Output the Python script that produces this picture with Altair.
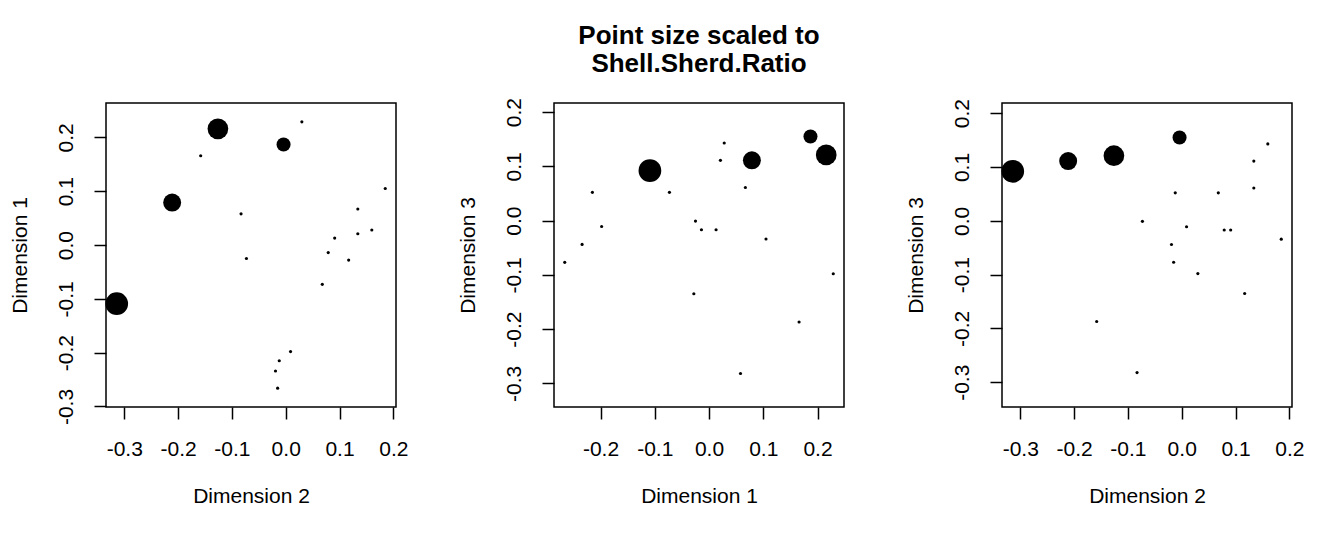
import altair as alt
import pandas as pd

# Coordinates of the 20 samples on three dimensions, and the shell/sherd ratio
dim1 = [-0.109, 0.079, 0.216, 0.187, 0.229, 0.166, 0.058, -0.025, 0.105, 0.067,
        0.028, 0.021, 0.013, -0.014, -0.028, -0.073, -0.198, -0.215, -0.234, -0.266]
dim2 = [-0.314, -0.211, -0.126, -0.004, 0.030, -0.158, -0.083, -0.073, 0.185, 0.134,
        0.160, 0.134, 0.091, 0.079, 0.117, 0.068, 0.009, -0.012, -0.019, -0.015]
dim3 = [0.092, 0.111, 0.121, 0.155, -0.098, -0.187, -0.282, -0.001, -0.034, 0.061,
        0.143, 0.111, -0.017, -0.017, -0.135, 0.052, -0.011, 0.052, -0.044, -0.077]
ratio = [1.0, 0.62, 0.83, 0.37, 0, 0, 0, 0, 0, 0,
         0, 0, 0, 0, 0, 0, 0, 0, 0, 0]

tick_vals = [-0.3, -0.2, -0.1, 0.0, 0.1, 0.2]

df = pd.DataFrame({"d1": dim1, "d2": dim2, "d3": dim3, "ratio": ratio})

W, H = 290, 304
FONT = "Liberation Sans"
LBL = "datum.value < 0 ? '-' + format(-datum.value, '.1f') : format(datum.value, '.1f')"


def ext(v):
    lo, hi = min(v), max(v)
    d = (hi - lo) * 0.04
    return lo - d, hi + d


def asp_domains(xv, yv):
    x0, x1 = ext(xv)
    y0, y1 = ext(yv)
    ppu = min(W / (x1 - x0), H / (y1 - y0))
    xc, yc = (x0 + x1) / 2, (y0 + y1) / 2
    xw, yh = W / ppu / 2, H / ppu / 2
    return [xc - xw, xc + xw], [yc - yh, yc + yh]


def xaxis(title, dom):
    vals = [v for v in tick_vals if dom[0] - 1e-9 <= v <= dom[1] + 1e-9]
    return alt.Axis(values=vals, labelExpr=LBL, title=title, domain=False, grid=False,
                    tickSize=12, tickWidth=1.5, tickColor="black",
                    labelFont=FONT, labelFontSize=21, labelColor="black",
                    labelPadding=19, labelFlush=False, labelOverlap=False,
                    titleFont=FONT, titleFontSize=21, titleFontWeight="normal",
                    titleColor="black", titlePadding=26)


def yaxis(title, dom):
    vals = [v for v in tick_vals if dom[0] - 1e-9 <= v <= dom[1] + 1e-9]
    return alt.Axis(values=vals, labelExpr=LBL, title=title, domain=False, grid=False,
                    tickSize=12, tickWidth=1.5, tickColor="black",
                    labelFont=FONT, labelFontSize=21, labelColor="black",
                    labelAngle=-90, labelAlign="center", labelBaseline="alphabetic",
                    labelPadding=22, labelFlush=False, labelOverlap=False,
                    titleFont=FONT, titleFontSize=21, titleFontWeight="normal",
                    titleColor="black", titlePadding=25)


def panel(xf, yf, xt, yt, title=None):
    xd, yd = asp_domains(df[xf].tolist(), df[yf].tolist())
    ch = alt.Chart(df).mark_circle(color="black", opacity=1).encode(
        x=alt.X(f"{xf}:Q", scale=alt.Scale(domain=xd, nice=False, zero=False), axis=xaxis(xt, xd)),
        y=alt.Y(f"{yf}:Q", scale=alt.Scale(domain=yd, nice=False, zero=False), axis=yaxis(yt, yd)),
        size=alt.Size("ratio:Q", scale=alt.Scale(domain=[0, 1], range=[10, 515]), legend=None),
    ).properties(width=W, height=H)
    if title:
        ch = ch.properties(title=alt.TitleParams(
            text=title, font=FONT, fontSize=26, fontWeight="bold", color="black",
            anchor="middle", frame="group", offset=20, lineHeight=28))
    return ch


p1 = panel("d2", "d1", "Dimension 2", "Dimension 1")
p2 = panel("d1", "d3", "Dimension 1", "Dimension 3",
           title=["Point size scaled to", " Shell.Sherd.Ratio"])
p3 = panel("d2", "d3", "Dimension 2", "Dimension 3")

chart = alt.hconcat(p1, p2, p3, spacing=158, bounds="flush").configure_view(
    stroke="black", strokeWidth=1.5
).properties(
    background="white",
    padding={"left": 0, "top": 14, "right": 5, "bottom": 5},
)

chart.save("out.html", embed_options={"renderer": "svg", "actions": False})
